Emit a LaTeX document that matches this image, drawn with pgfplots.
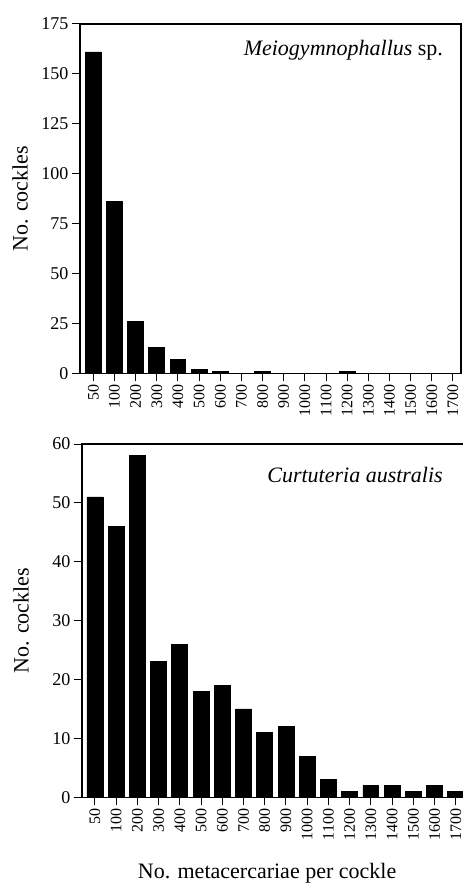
\documentclass[border=0pt]{standalone}
\usepackage{fontspec}
\setmainfont{Liberation Serif}
\usepackage{pgfplots}
\pgfplotsset{compat=1.18}

\pgfplotstableread{
x n
0 161
1 86
2 26
3 13
4 7
5 2
6 1
7 0
8 1
9 0
10 0
11 0
12 1
13 0
14 0
15 0
16 0
17 0
}\meio

\pgfplotstableread{
x n
0 51
1 46
2 58
3 23
4 26
5 18
6 19
7 15
8 11
9 12
10 7
11 3
12 1
13 2
14 2
15 1
16 2
17 1
}\curt

\pgfplotsset{
  cockle/.style={
    scale only axis,
    axis line style={line width=1.2pt},
    ybar, bar width=0.75, bar shift=0pt,
    ymin=0,
    tick align=outside,
    xtick pos=bottom, ytick pos=left,
    major tick length=8pt,
    every tick/.style={black, line width=1pt},
    xtick=data,
    xticklabels={50,100,200,300,400,500,600,700,800,900,1000,1100,1200,1300,1400,1500,1600,1700},
    xticklabel style={rotate=90, anchor=east, font=\fontsize{16}{18}\selectfont},
    yticklabel style={font=\fontsize{18}{20}\selectfont},
    /pgf/number format/assume math mode=true,
    ylabel={No. cockles},
    every axis y label/.style={at={(axis description cs:-0.157,0.5)}, rotate=90, anchor=center, font=\fontsize{22}{24}\selectfont},
  },
}

\begin{document}
\begin{tikzpicture}[x=1pt,y=1pt]
\useasboundingbox (0,0) rectangle (463,884);

\begin{axis}[cockle,
    at={(80pt,510.7pt)}, anchor=south west,
    width=381pt, height=349.3pt,
    xmin=-0.63, xmax=17.38,
    ymax=175, ytick={0,25,...,175}]
\addplot[fill=black, draw=black, line width=0.8pt] table[x=x, y=n] {\meio};
\node[anchor=base east, font=\fontsize{22}{24}\selectfont] at (axis description cs:0.962,0.911) {\textit{Meiogymnophallus} sp.};
\end{axis}

\begin{axis}[cockle,
    at={(82pt,86.7pt)}, anchor=south west,
    width=388pt, height=353.3pt,
    xmin=-0.61, xmax=17.67,
    ymax=60, ytick={0,10,...,60},
    xlabel={No. metacercariae per cockle},
    every axis x label/.style={at={(axis description cs:0.477,-0.231)}, anchor=base, font=\fontsize{22}{24}\selectfont}]
\addplot[fill=black, draw=black, line width=0.8pt] table[x=x, y=n] {\curt};
\node[anchor=base east, font=\fontsize{22}{24}\selectfont] at (axis description cs:0.939,0.890) {\textit{Curtuteria australis}};
\end{axis}
\end{tikzpicture}
\end{document}
